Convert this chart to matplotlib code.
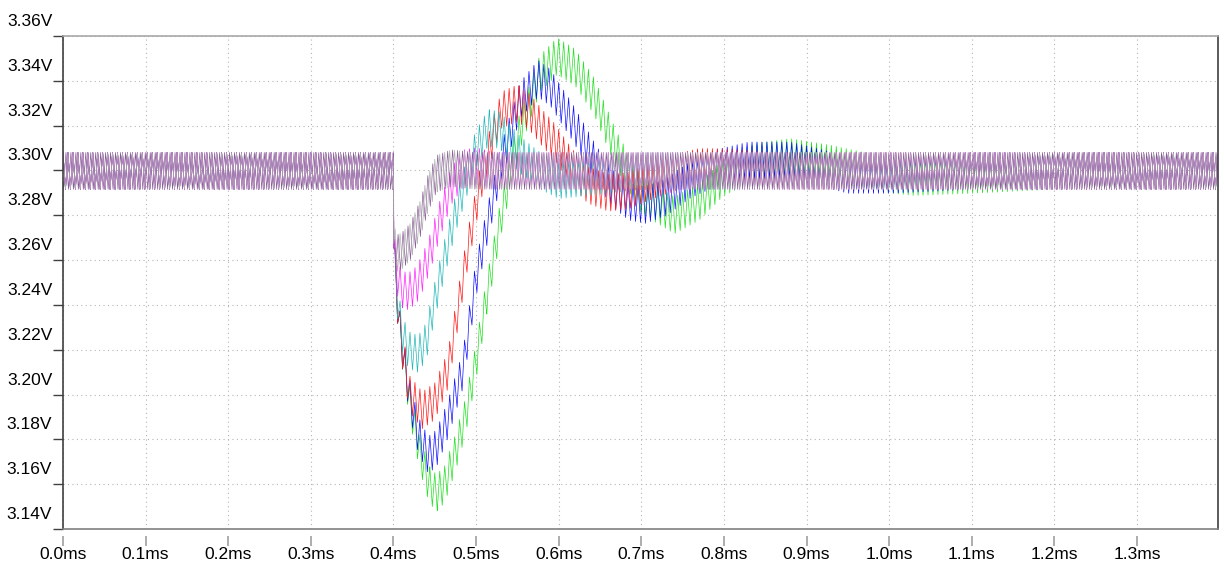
import numpy as np
import matplotlib
matplotlib.use('Agg')
import matplotlib.pyplot as plt
import matplotlib.transforms as mtransforms

plt.rcParams['font.family'] = ['Liberation Sans', 'DejaVu Sans']

##################################################################
# envelope (ripple centre) of each stepped trace
# time in ms, voltage in V
VB = 3.2998

green_t = [0, 0.400, 0.4004, 0.405, 0.410, 0.420, 0.432, 0.443, 0.452, 0.462, 0.475, 0.487, 0.500,
           0.511, 0.529, 0.550, 0.577, 0.598, 0.620, 0.643, 0.670, 0.700, 0.740, 0.770, 0.800,
           0.840, 0.880, 0.930, 0.980, 1.030, 1.100, 1.200, 1.398]
green_v = [VB, VB, 3.266, 3.240, 3.222, 3.196, 3.174, 3.160, 3.156, 3.160, 3.174, 3.190, 3.215,
           3.240, 3.277, 3.314, 3.343, 3.351, 3.346, 3.333, 3.309, 3.289, 3.280, 3.286, 3.297,
           3.304, 3.306, 3.303, 3.299, 3.297, 3.298, VB, VB]

blue_t = [0, 0.400, 0.4004, 0.405, 0.410, 0.420, 0.430, 0.442, 0.452, 0.465, 0.484, 0.500, 0.512,
          0.530, 0.553, 0.575, 0.590, 0.600, 0.616, 0.630, 0.645, 0.665, 0.685, 0.705, 0.730,
          0.760, 0.790, 0.830, 0.880, 0.920, 0.950, 1.000, 1.100, 1.398]
blue_v = [VB, VB, 3.266, 3.240, 3.222, 3.198, 3.182, 3.173, 3.176, 3.188, 3.211, 3.252, 3.273,
          3.303, 3.331, 3.341, 3.337, 3.331, 3.322, 3.313, 3.303, 3.292, 3.286, 3.2846, 3.288,
          3.296, 3.301, 3.3045, 3.3045, 3.301, 3.298, 3.298, VB, VB]

red_t = [0, 0.400, 0.4004, 0.405, 0.410, 0.420, 0.435, 0.450, 0.466, 0.490, 0.505, 0.520, 0.531,
         0.550, 0.565, 0.580, 0.595, 0.615, 0.635, 0.660, 0.685, 0.710, 0.740, 0.770, 0.800,
         0.850, 0.900, 1.398]
red_v = [VB, VB, 3.266, 3.240, 3.222, 3.200, 3.193, 3.197, 3.211, 3.265, 3.2936, 3.315, 3.327,
         3.330, 3.326, 3.319, 3.3128, 3.302, 3.2936, 3.290, 3.291, 3.295, 3.299, 3.3016, 3.3015,
         3.300, VB, VB]

cyan_t = [0, 0.400, 0.4004, 0.405, 0.410, 0.418, 0.430, 0.440, 0.448, 0.460, 0.4746, 0.484, 0.499,
          0.5145, 0.529, 0.553, 0.577, 0.600, 0.650, 0.700, 1.398]
cyan_v = [VB, VB, 3.266, 3.242, 3.228, 3.220, 3.218, 3.224, 3.2387, 3.258, 3.280, 3.291, 3.309,
          3.319, 3.318, 3.307, 3.300, 3.2956, 3.2976, VB, VB]

magenta_t = [0, 0.400, 0.4004, 0.405, 0.410, 0.418, 0.428, 0.436, 0.444, 0.456, 0.470, 0.485,
             0.500, 0.520, 0.550, 1.398]
magenta_v = [VB, VB, 3.266, 3.252, 3.247, 3.246, 3.249, 3.255, 3.263, 3.278, 3.293, 3.301,
             3.302, 3.300, VB, VB]

gray_t = [0, 0.400, 0.4004, 0.404, 0.410, 0.420, 0.432, 0.442, 0.452, 0.470, 0.500, 1.398]
gray_v = [VB, VB, 3.268, 3.263, 3.264, 3.268, 3.278, 3.290, 3.2985, 3.301, VB, VB]

# switching ripple
ripple_period = 0.0060   # ms
ripple_amp = 0.0082      # V

traces = [
    (green_t, green_v, '#22e022', 0.0),
    (blue_t, blue_v, '#1010ff', 0.0),
    (red_t, red_v, '#ff1a1a', 0.0),
    (cyan_t, cyan_v, '#22b8b8', 0.0),
    (magenta_t, magenta_v, '#ff22ff', 0.0),
    (gray_t, gray_v, '#8a5a9a', 0.4),   # purple step, hidden under gray in the transient
    (gray_t, gray_v, '#b0b0b0', 0.0),
]

yticks = [3.36, 3.34, 3.32, 3.30, 3.28, 3.26, 3.24, 3.22, 3.20, 3.18, 3.16, 3.14]
xticks = [0.0, 0.1, 0.2, 0.3, 0.4, 0.5, 0.6, 0.7, 0.8, 0.9, 1.0, 1.1, 1.2, 1.3]

##################################################################
fig = plt.figure(figsize=(12.24, 5.68), dpi=100)
ax = fig.add_axes([63/1224, 39/568, 1155/1224, 493/568])

t = np.arange(0, 1.398, 0.0002)
for kt, kv, col, ph in traces:
    env = np.interp(t, kt, kv)
    phase = (t / ripple_period + ph) % 1.0
    tri = 2*np.abs(2*phase - 1) - 1
    ax.plot(t, env + ripple_amp*tri, '-', color=col, lw=0.5)

ax.set_xlim(0, 1.398)
ax.set_ylim(3.14, 3.36)

ax.set_yticks(yticks)
ax.set_yticklabels(['%.2fV' % v for v in yticks], fontsize=12.5)
ax.set_xticks(xticks)
ax.set_xticklabels(['%.1fms' % v for v in xticks], fontsize=12.5)

ax.tick_params(axis='y', direction='out', length=7.2, width=1, color='#404040', pad=0.5)
ax.tick_params(axis='x', length=0, pad=13)

# LTspice puts the voltage labels above their grid line
off = mtransforms.ScaledTranslation(0, 0.16, fig.dpi_scale_trans)
for label in ax.get_yticklabels():
    label.set_transform(label.get_transform() + off)

# detached x tick marks below the frame
ax.vlines(xticks, -0.0142, -0.0345, transform=ax.get_xaxis_transform(),
          color='#a0a0a0', lw=1.2, clip_on=False)

ax.grid(True, color='#b4b4b4', ls=(0, (1, 3)), lw=0.8)
ax.set_axisbelow(True)

ax.spines['left'].set_color('#404040')
ax.spines['right'].set_color('#404040')
ax.spines['top'].set_color('#a8a8a8')
ax.spines['bottom'].set_color('#808080')
for s in ax.spines.values():
    s.set_linewidth(1.2)

fig.savefig('out.png', dpi=100)
